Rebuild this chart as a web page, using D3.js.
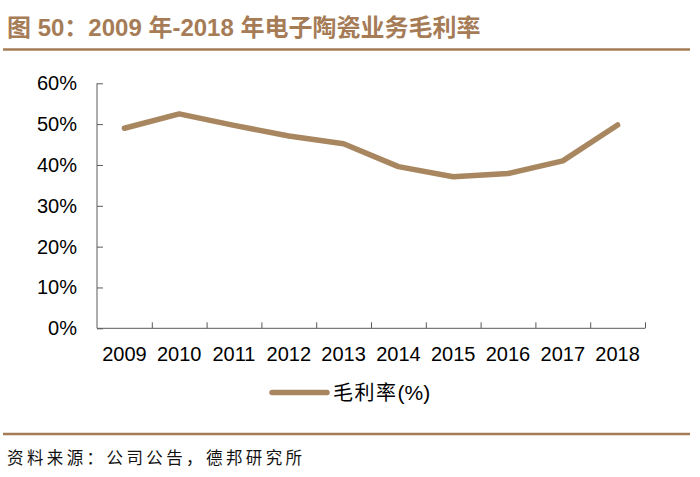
<!DOCTYPE html>
<html>
<head>
<meta charset="utf-8">
<script src="https://d3js.org/d3.v7.min.js"></script>
<style>
  body { margin: 0; background: #fff; }
  svg { display: block; }
</style>
</head>
<body>
<div id="chart"></div>
<script>
var svgWidth = 700;
var svgHeight = 477;

// data
var years = ["2009", "2010", "2011", "2012", "2013", "2014", "2015", "2016", "2017", "2018"];
var grossMargin = [49.0, 52.5, 49.7, 47.1, 45.2, 39.6, 37.1, 37.9, 41.0, 49.8];
var yTicks = [0, 10, 20, 30, 40, 50, 60];

var brown = "#a67c57";
var lineColor = "#a8865f";
var axisColor = "#5a5a5a";
var latin = "'Liberation Sans', Arial, 'Noto Sans CJK SC', sans-serif";
var cjk = "'Noto Sans CJK SC', 'Liberation Sans', sans-serif";

var margin = { top: 83.3, left: 97, right: 55, bottom: 148.7 };
var width = svgWidth - margin.left - margin.right;
var height = svgHeight - margin.top - margin.bottom;

var svg = d3.select("#chart")
  .append("svg")
  .attr("width", svgWidth)
  .attr("height", svgHeight);

// title + rules
svg.append("text")
  .attr("x", 7)
  .attr("y", 36)
  .attr("fill", brown)
  .attr("font-family", latin)
  .attr("font-weight", "bold")
  .attr("font-size", 24)
  .text("图 50：2009 年-2018 年电子陶瓷业务毛利率");

svg.append("line")
  .attr("x1", 3).attr("x2", 690)
  .attr("y1", 49.5).attr("y2", 49.5)
  .attr("stroke", brown)
  .attr("stroke-width", 2.6);

svg.append("line")
  .attr("x1", 3).attr("x2", 690)
  .attr("y1", 434).attr("y2", 434)
  .attr("stroke", brown)
  .attr("stroke-width", 2.6);

svg.append("text")
  .attr("x", 7)
  .attr("y", 464)
  .attr("fill", "#111")
  .attr("font-family", cjk)
  .attr("font-size", 16.5)
  .attr("letter-spacing", 3.4)
  .text("资料来源：公司公告，德邦研究所");

var chartGroup = svg.append("g")
  .attr("transform", `translate(${margin.left}, ${margin.top})`);

var xScale = d3.scaleBand()
  .domain(years)
  .range([0, width]);

var yScale = d3.scaleLinear()
  .domain([0, 60])
  .range([height, 0]);

// y axis, ticks pointing inward
var leftAxis = d3.axisRight(yScale)
  .tickValues(yTicks)
  .tickSize(6)
  .tickFormat(function(d) { return d + "%"; });

var yAxis = chartGroup.append("g").call(leftAxis);
yAxis.select(".domain").attr("stroke", axisColor).attr("d", `M0,0V${height}`);
yAxis.selectAll(".tick line").attr("stroke", axisColor);
yAxis.selectAll(".tick text")
  .attr("x", -20)
  .attr("text-anchor", "end")
  .attr("fill", "#000")
  .attr("font-family", latin)
  .attr("font-size", 20);

// x axis: ticks at band edges, pointing up
var edges = years.map(function(y) { return xScale(y); }).concat([width]);
var xAxis = chartGroup.append("g")
  .attr("transform", `translate(0, ${height})`);
xAxis.append("line")
  .attr("x1", 0).attr("x2", width)
  .attr("stroke", axisColor);
xAxis.selectAll(".edge")
  .data(edges.slice(1))
  .enter()
  .append("line")
  .attr("class", "edge")
  .attr("x1", function(d) { return d + 0.5; })
  .attr("x2", function(d) { return d + 0.5; })
  .attr("y1", 0).attr("y2", -6)
  .attr("stroke", axisColor);
xAxis.selectAll(".lab")
  .data(years)
  .enter()
  .append("text")
  .attr("class", "lab")
  .attr("x", function(d) { return xScale(d) + xScale.bandwidth() / 2; })
  .attr("y", 33)
  .attr("text-anchor", "middle")
  .attr("fill", "#000")
  .attr("font-family", latin)
  .attr("font-size", 20)
  .text(function(d) { return d; });

// the line
var line = d3.line()
  .x(function(d, i) { return xScale(years[i]) + xScale.bandwidth() / 2; })
  .y(function(d) { return yScale(d); });

chartGroup.append("path")
  .datum(grossMargin)
  .attr("d", line)
  .attr("fill", "none")
  .attr("stroke", lineColor)
  .attr("stroke-width", 5.5)
  .attr("stroke-linecap", "round")
  .attr("stroke-linejoin", "round");

// legend
var legend = svg.append("g").attr("transform", "translate(272, 392.5)");
legend.append("line")
  .attr("x1", 0).attr("x2", 55)
  .attr("stroke", lineColor)
  .attr("stroke-width", 5.5)
  .attr("stroke-linecap", "round");
var legendText = legend.append("text")
  .attr("x", 61)
  .attr("y", 7)
  .attr("fill", "#000")
  .attr("font-size", 20);
legendText.append("tspan")
  .attr("font-family", cjk)
  .attr("letter-spacing", 1.5)
  .text("毛利率");
legendText.append("tspan")
  .attr("font-family", latin)
  .attr("font-size", 21)
  .text("(%)");
</script>
</body>
</html>
